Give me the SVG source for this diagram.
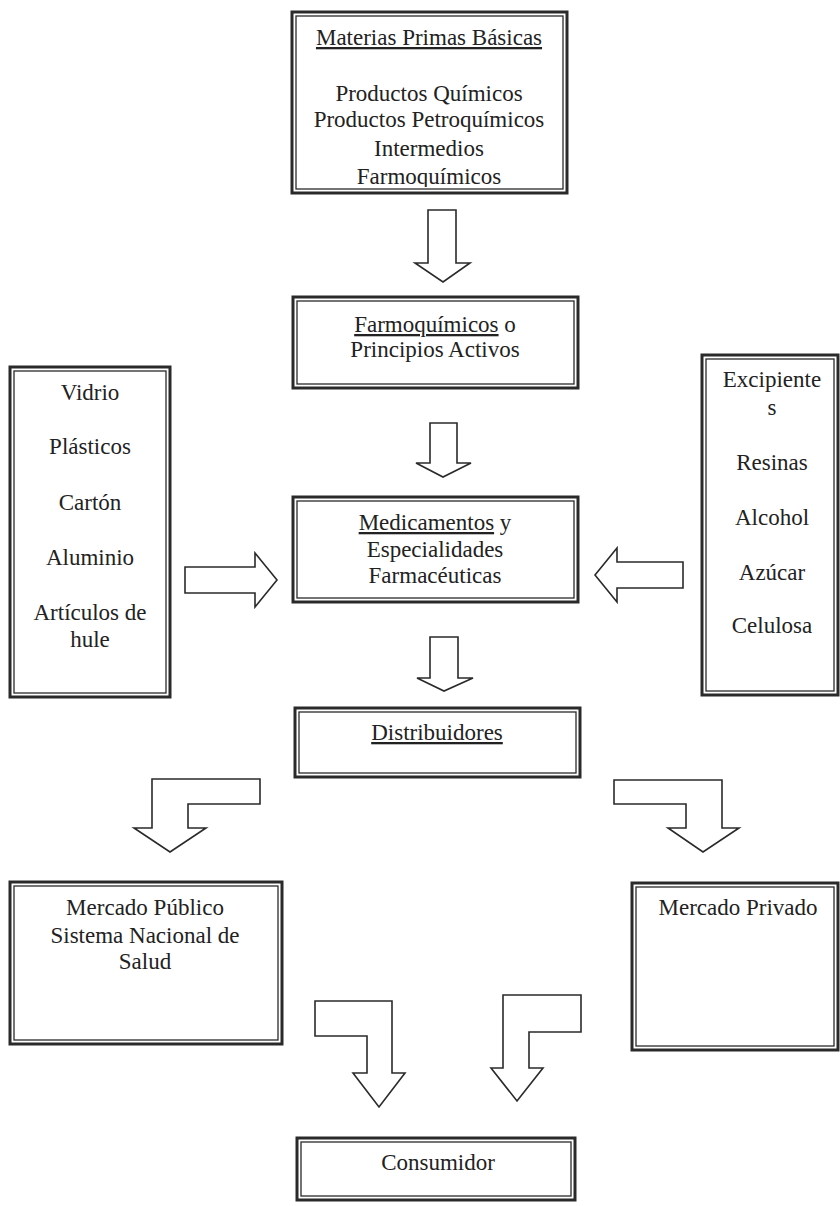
<svg xmlns="http://www.w3.org/2000/svg" width="840" height="1206" viewBox="0 0 840 1206">
<style>
.o{fill:#fff;stroke:#2a2a2a;stroke-width:3}
.i{fill:none;stroke:#2a2a2a;stroke-width:1.3}
.a{fill:#fff;stroke:#2a2a2a;stroke-width:1.6;stroke-linejoin:miter}
</style>
<defs>
<clipPath id="clipTop"><rect x="296" y="16" width="267" height="171"/></clipPath>
</defs>
<rect width="840" height="1206" fill="#fff"/>

<g id="connectors">
<polygon class="a" points="428,210 456,210 456,263 470,263 443,282 415,263 428,263"/>
<polygon class="a" points="430,423 457,423 457,463 471,463 443,477 416,463 430,463"/>
<polygon class="a" points="185,567 255,567 255,553 277,580 255,607 255,593 185,593"/>
<polygon class="a" points="683,562 617,562 617,548 595,575 617,602 617,588 683,588"/>
<polygon class="a" points="430,637 458,637 458,678 473,678 444,691 417,678 430,678"/>
<polygon class="a" points="152,779 260,779 260,804 188,804 188,828 206,828 170,852 134,828 152,828"/>
<polygon class="a" points="614,780 722,780 722,828 739,828 703,852 668,828 686,828 686,804 614,804"/>
<polygon class="a" points="315,1001 392,1001 392,1073 405,1073 379,1107 353,1073 367,1073 367,1036 315,1036"/>
<polygon class="a" points="503,995 581,995 581,1032 529,1032 529,1068 543,1068 517,1101 491,1068 503,1068"/>
</g>

<g id="materias">
<rect class="o" x="292" y="12" width="275" height="181"/>
<rect class="i" x="296" y="16" width="267" height="173"/>
<g clip-path="url(#clipTop)">
<text x="429" y="45" font-family="Liberation Serif" font-size="23" fill="#222" text-anchor="middle"><tspan text-decoration="underline">Materias Primas Básicas</tspan></text>
<text x="429" y="101" font-family="Liberation Serif" font-size="23" fill="#222" text-anchor="middle">Productos Químicos</text>
<text x="429" y="127" font-family="Liberation Serif" font-size="23" fill="#222" text-anchor="middle">Productos Petroquímicos</text>
<text x="429" y="156" font-family="Liberation Serif" font-size="23" fill="#222" text-anchor="middle">Intermedios</text>
<text x="429" y="184" font-family="Liberation Serif" font-size="23" fill="#222" text-anchor="middle">Farmoquímicos</text>
</g>
</g>

<g id="farmoquimicos">
<rect class="o" x="293" y="297" width="285" height="91"/>
<rect class="i" x="297" y="301" width="277" height="83"/>
<text x="435" y="332" font-family="Liberation Serif" font-size="23" fill="#222" text-anchor="middle"><tspan text-decoration="underline">Farmoquímicos</tspan> o</text>
<text x="435" y="357" font-family="Liberation Serif" font-size="23" fill="#222" text-anchor="middle">Principios Activos</text>
</g>

<g id="envases">
<rect class="o" x="10" y="367" width="160" height="330"/>
<rect class="i" x="14" y="371" width="152" height="322"/>
<text x="90" y="400" font-family="Liberation Serif" font-size="23" fill="#222" text-anchor="middle">Vidrio</text>
<text x="90" y="454" font-family="Liberation Serif" font-size="23" fill="#222" text-anchor="middle">Plásticos</text>
<text x="90" y="510" font-family="Liberation Serif" font-size="23" fill="#222" text-anchor="middle">Cartón</text>
<text x="90" y="565" font-family="Liberation Serif" font-size="23" fill="#222" text-anchor="middle">Aluminio</text>
<text x="90" y="620" font-family="Liberation Serif" font-size="23" fill="#222" text-anchor="middle">Artículos de</text>
<text x="90" y="647" font-family="Liberation Serif" font-size="23" fill="#222" text-anchor="middle">hule</text>
</g>

<g id="excipientes">
<rect class="o" x="702" y="355" width="136" height="340"/>
<rect class="i" x="706" y="359" width="128" height="332"/>
<text x="772" y="387" font-family="Liberation Serif" font-size="23" fill="#222" text-anchor="middle">Excipiente</text>
<text x="772" y="415" font-family="Liberation Serif" font-size="23" fill="#222" text-anchor="middle">s</text>
<text x="772" y="470" font-family="Liberation Serif" font-size="23" fill="#222" text-anchor="middle">Resinas</text>
<text x="772" y="525" font-family="Liberation Serif" font-size="23" fill="#222" text-anchor="middle">Alcohol</text>
<text x="772" y="580" font-family="Liberation Serif" font-size="23" fill="#222" text-anchor="middle">Azúcar</text>
<text x="772" y="633" font-family="Liberation Serif" font-size="23" fill="#222" text-anchor="middle">Celulosa</text>
</g>

<g id="medicamentos">
<rect class="o" x="293" y="497" width="285" height="105"/>
<rect class="i" x="297" y="501" width="277" height="97"/>
<text x="435" y="530" font-family="Liberation Serif" font-size="23" fill="#222" text-anchor="middle"><tspan text-decoration="underline">Medicamentos</tspan> y</text>
<text x="435" y="557" font-family="Liberation Serif" font-size="23" fill="#222" text-anchor="middle">Especialidades</text>
<text x="435" y="583" font-family="Liberation Serif" font-size="23" fill="#222" text-anchor="middle">Farmacéuticas</text>
</g>

<g id="distribuidores">
<rect class="o" x="295" y="708" width="285" height="69"/>
<rect class="i" x="299" y="712" width="277" height="61"/>
<text x="437" y="740" font-family="Liberation Serif" font-size="23" fill="#222" text-anchor="middle"><tspan text-decoration="underline">Distribuidores</tspan></text>
</g>

<g id="mercado-publico">
<rect class="o" x="10" y="882" width="272" height="162"/>
<rect class="i" x="14" y="886" width="264" height="154"/>
<text x="145" y="915" font-family="Liberation Serif" font-size="23" fill="#222" text-anchor="middle">Mercado Público</text>
<text x="145" y="943" font-family="Liberation Serif" font-size="23" fill="#222" text-anchor="middle">Sistema Nacional de</text>
<text x="145" y="969" font-family="Liberation Serif" font-size="23" fill="#222" text-anchor="middle">Salud</text>
</g>

<g id="mercado-privado">
<rect class="o" x="632" y="883" width="206" height="167"/>
<rect class="i" x="636" y="887" width="198" height="159"/>
<text x="738" y="915" font-family="Liberation Serif" font-size="23" fill="#222" text-anchor="middle">Mercado Privado</text>
</g>

<g id="consumidor">
<rect class="o" x="297" y="1138" width="278" height="62"/>
<rect class="i" x="301" y="1142" width="270" height="54"/>
<text x="438" y="1170" font-family="Liberation Serif" font-size="23" fill="#222" text-anchor="middle">Consumidor</text>
</g>
</svg>
